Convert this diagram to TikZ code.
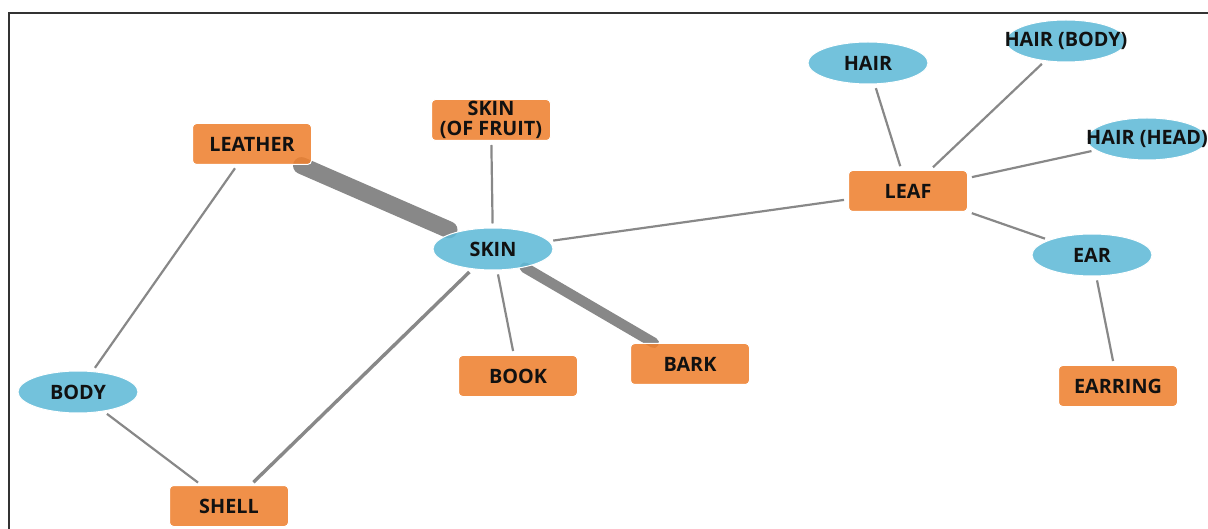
\documentclass[tikz,border=0pt]{standalone}
\usepackage{fontspec}
\setmainfont{Open Sans}
\usetikzlibrary{shapes.geometric}
\definecolor{nodeorange}{RGB}{238,129,48}
\definecolor{nodeblue}{RGB}{96,186,215}
\definecolor{edgegray}{RGB}{136,136,136}
\definecolor{framegray}{RGB}{51,51,51}
\definecolor{textblack}{RGB}{17,17,17}
\newcommand{\ctxt}[1]{\makebox[0pt][c]{#1}}
\tikzset{
  rectnode/.style={rectangle, rounded corners=4pt, fill=nodeorange, draw=white, line width=1pt,
    minimum width=119pt, minimum height=41pt, inner sep=0pt, align=center, text=textblack,
    font=\fontsize{19.8}{20}\selectfont\bfseries, fill opacity=0.88, text opacity=1},
  ellnode/.style={ellipse, fill=nodeblue, draw=white, line width=1pt,
    minimum width=120pt, minimum height=42pt, inner sep=0pt, text=textblack,
    font=\fontsize{19.8}{20}\selectfont\bfseries, fill opacity=0.88, text opacity=1},
  thinedge/.style={draw=edgegray, line width=2.2pt, shorten <=4pt, shorten >=4pt},
  midedge/.style={draw=edgegray, line width=3.4pt, shorten <=4pt, shorten >=4pt},
  thickedge/.style={draw=edgegray, line cap=round},
  frameline/.style={draw=framegray, line width=2pt}
}
\begin{document}
\begin{tikzpicture}[x=1pt,y=-1pt]
\useasboundingbox (0,0) rectangle (1208,529);
% frame
\coordinate (ftr) at (1208,13);
\coordinate (ftl) at (9,13);
\coordinate (fbl) at (9,529);
\draw[frameline] (ftr) -- (ftl) -- (fbl);
% node positions
\coordinate (pleather) at (252,144);
\coordinate (pskin) at (493,249);
\coordinate (pbark) at (690,364);
% thick edges (drawn first, under nodes)
\draw[thickedge, line width=17pt, shorten <=54pt, shorten >=48pt] (pleather) -- (pskin);
\draw[thickedge, line width=10.5pt, shorten <=37pt, shorten >=42pt] (pskin) -- (pbark);
% nodes
\node[rectnode] (leather) at (pleather) {LEATHER};
\node[rectnode] (fruit) at (491,120) {SKIN\\(OF FRUIT)};
\node[ellnode] (skin) at (pskin) {\ctxt{SKIN}};
\node[rectnode] (book) at (518,376) {BOOK};
\node[rectnode] (bark) at (pbark) {BARK};
\node[ellnode] (body) at (78,392) {\ctxt{BODY}};
\node[rectnode] (shell) at (229,506) {SHELL};
\node[rectnode] (leaf) at (908,191) {LEAF};
\node[ellnode] (hair) at (868,63) {\ctxt{HAIR}};
\node[ellnode] (hairbody) at (1066,41) {\ctxt{HAIR (BODY)}};
\node[ellnode] (hairhead) at (1147,139) {\ctxt{HAIR (HEAD)}};
\node[ellnode] (ear) at (1092,255) {\ctxt{EAR}};
\node[rectnode] (earring) at (1118,386) {EARRING};
% thin edges
\draw[thinedge] (fruit) -- (skin);
\draw[thinedge] (skin) -- (book);
\draw[thinedge] (skin) -- (leaf);
\draw[midedge] (skin) -- (shell);
\draw[thinedge] (leather) -- (body);
\draw[thinedge] (body) -- (shell);
\draw[thinedge] (leaf) -- (hair);
\draw[thinedge] (leaf) -- (hairbody);
\draw[thinedge] (leaf) -- (hairhead);
\draw[thinedge] (leaf) -- (ear);
\draw[thinedge] (ear) -- (earring);
\end{tikzpicture}
\end{document}
